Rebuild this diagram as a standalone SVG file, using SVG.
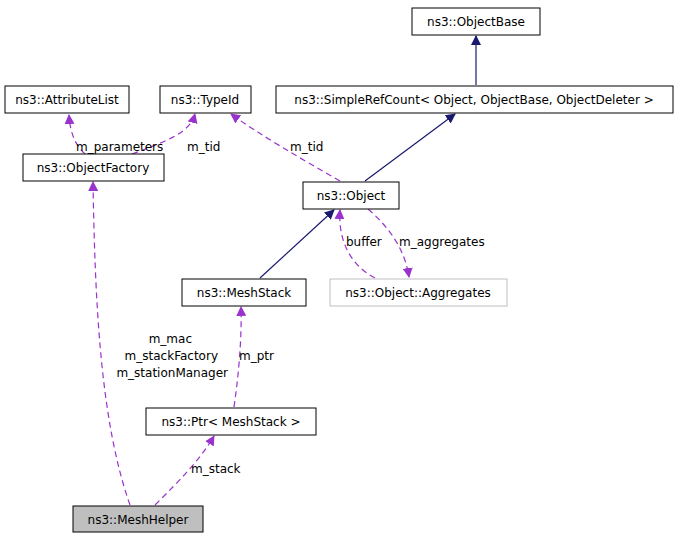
<svg xmlns="http://www.w3.org/2000/svg" width="683" height="539" viewBox="0 0 683 539">
<style>
text{font-family:"DejaVu Sans",sans-serif;font-size:12px;fill:#000}
.n{fill:#fff;stroke:#000;stroke-width:1}
.s{stroke:#191970;fill:none;stroke-width:1.2}
.d{stroke:#9a32cd;fill:none;stroke-width:1.2;stroke-dasharray:6,4}
</style>
<defs>
<marker id="a" markerWidth="10" markerHeight="10" refX="9" refY="5" orient="auto" markerUnits="userSpaceOnUse"><path d="M0,0 L10,5 L0,10 z" fill="#191970"/></marker>
<marker id="p" markerWidth="10" markerHeight="10" refX="9" refY="5" orient="auto" markerUnits="userSpaceOnUse"><path d="M0,0 L10,5 L0,10 z" fill="#9a32cd"/></marker>
</defs>
<g id="edges">
<path class="s" d="M476,85 L476,36" marker-end="url(#a)"/>
<path class="s" d="M365,181 L455,114" marker-end="url(#a)"/>
<path class="s" d="M260,278 L334,210" marker-end="url(#a)"/>
<path class="d" d="M340,181 C300,158 260,135 231,114" marker-end="url(#p)"/>
<path class="d" d="M132,154 C170,140 190,132 195,114" marker-end="url(#p)"/>
<path class="d" d="M85,154 C75,145 70,132 69,115" marker-end="url(#p)"/>
<path class="d" d="M375,278 C350,265 338,240 340,210" marker-end="url(#p)"/>
<path class="d" d="M368,209 C390,228 405,250 409,277" marker-end="url(#p)"/>
<path class="d" d="M130,505 C100,420 95,300 93,182" marker-end="url(#p)"/>
<path class="d" d="M234,407 C238,380 242,340 241,307" marker-end="url(#p)"/>
<path class="d" d="M155,505 C180,480 200,460 214,436" marker-end="url(#p)"/>
</g>
<g id="ObjectBase"><rect class="n" x="412" y="8" width="128" height="27"/><text x="476" y="26" text-anchor="middle">ns3::ObjectBase</text></g>
<g id="SimpleRefCount"><rect class="n" x="276" y="86" width="397" height="27"/><text x="474" y="104" text-anchor="middle">ns3::SimpleRefCount&lt; Object, ObjectBase, ObjectDeleter &gt;</text></g>
<g id="AttributeList"><rect class="n" x="5" y="86" width="124" height="27"/><text x="67" y="104" text-anchor="middle">ns3::AttributeList</text></g>
<g id="TypeId"><rect class="n" x="160" y="86" width="91" height="27"/><text x="205" y="104" text-anchor="middle">ns3::TypeId</text></g>
<g id="ObjectFactory"><rect class="n" x="23" y="154" width="141" height="27"/><text x="93" y="172" text-anchor="middle">ns3::ObjectFactory</text></g>
<g id="Object"><rect class="n" x="303" y="182" width="96" height="27"/><text x="351" y="200" text-anchor="middle">ns3::Object</text></g>
<g id="MeshStack"><rect class="n" x="182" y="279" width="124" height="27"/><text x="244" y="297" text-anchor="middle">ns3::MeshStack</text></g>
<g id="Aggregates"><rect x="330" y="279" width="177" height="27" fill="#fff" stroke="#bfbfbf"/><text x="418" y="297" text-anchor="middle">ns3::Object::Aggregates</text></g>
<g id="Ptr"><rect class="n" x="146" y="408" width="170" height="27"/><text x="231" y="426" text-anchor="middle">ns3::Ptr&lt; MeshStack &gt;</text></g>
<g id="MeshHelper"><rect x="73" y="506" width="130" height="26" fill="#bfbfbf" stroke="#000"/><text x="138" y="524" text-anchor="middle">ns3::MeshHelper</text></g>
<g id="labels">
<text x="290" y="151">m_tid</text>
<text x="187" y="151">m_tid</text>
<text x="76" y="151">m_parameters</text>
<text x="346" y="246">buffer</text>
<text x="399" y="246">m_aggregates</text>
<text x="192" y="343" text-anchor="end">m_mac</text>
<text x="218" y="360" text-anchor="end">m_stackFactory</text>
<text x="228" y="377" text-anchor="end">m_stationManager</text>
<text x="239" y="360">m_ptr</text>
<text x="191" y="473">m_stack</text>
</g>
</svg>
